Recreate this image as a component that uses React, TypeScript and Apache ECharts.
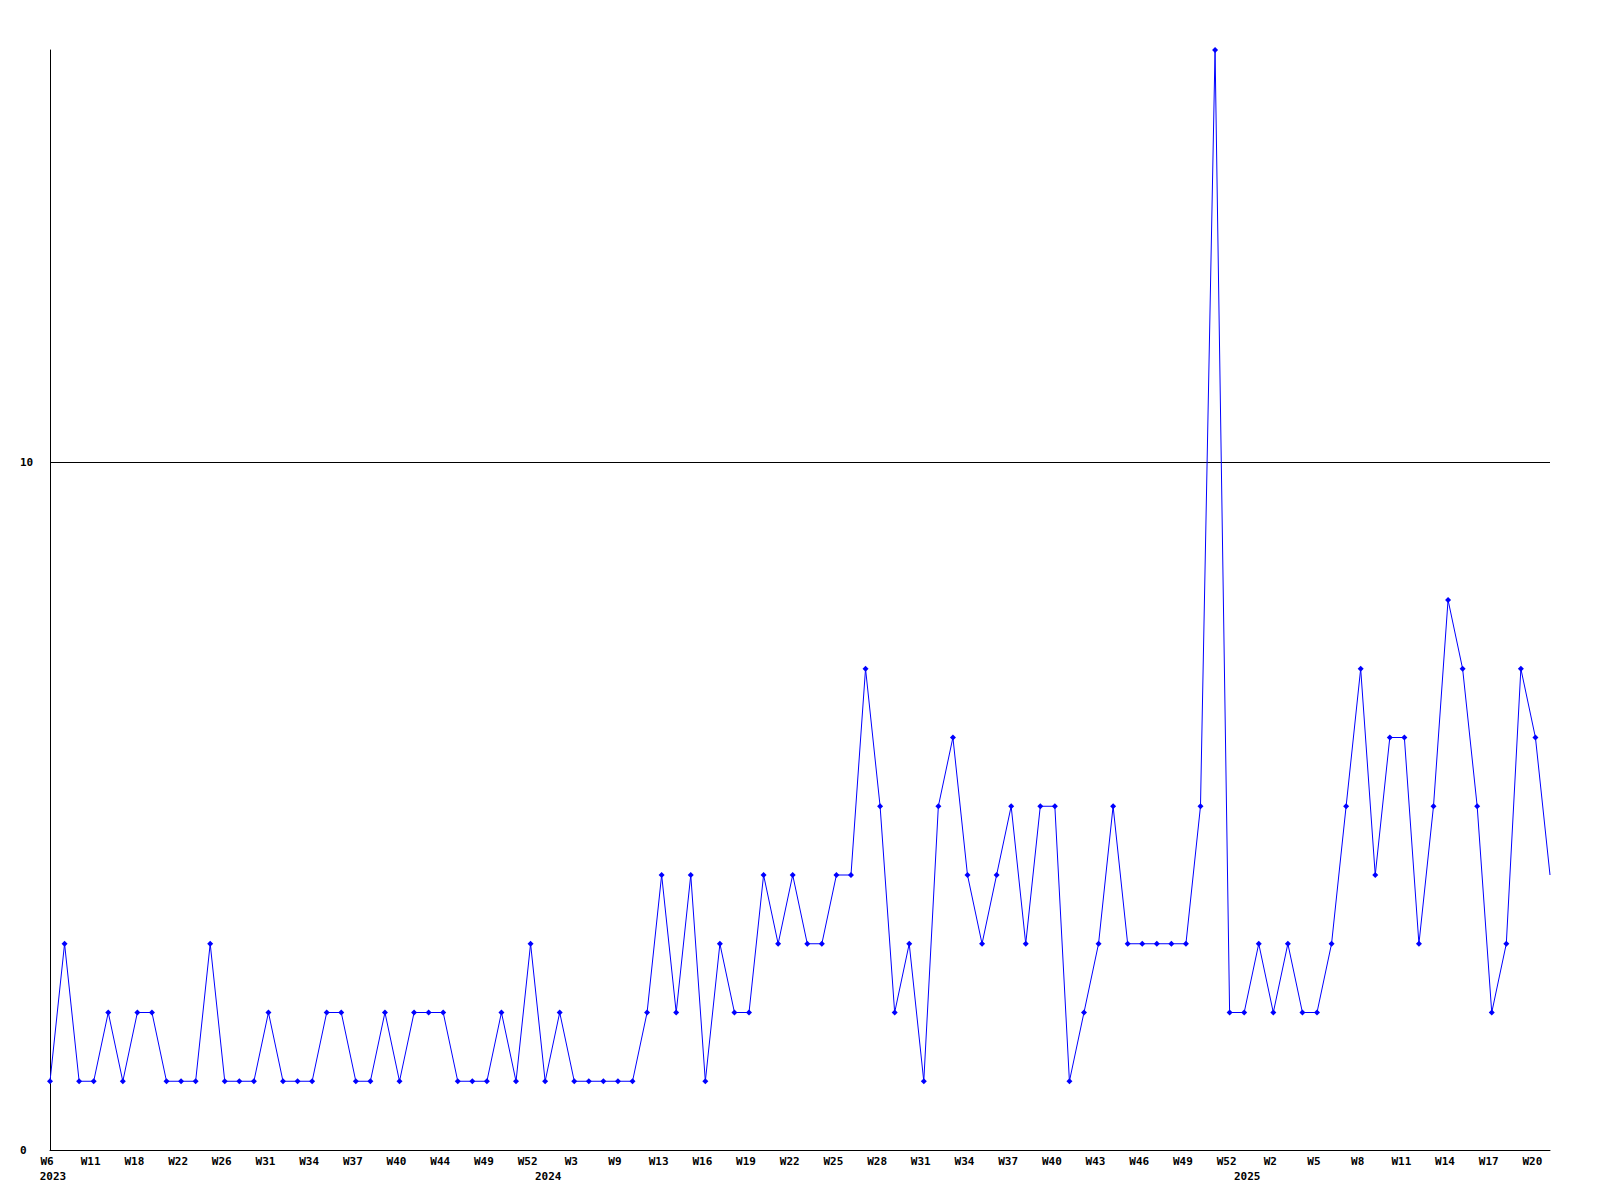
import React, { useEffect, useRef } from "react";
import * as echarts from "echarts";

const weeks2023 = ["W6", "W8", "W9", "W11", "W14", "W16", "W18", "W19", "W21", "W22", "W23", "W25", "W26", "W28", "W29", "W31", "W32", "W33", "W34", "W35", "W36", "W37", "W38", "W39", "W40", "W41", "W43", "W44", "W45", "W47", "W49", "W50", "W51", "W52"];
const weeks2024 = ["W1", "W2", "W3", "W5", "W7", "W9", "W10", "W12", "W13", "W14", "W15", "W16", "W17", "W18", "W19", "W20", "W21", "W22", "W23", "W24", "W25", "W26", "W27", "W28", "W29", "W30", "W31", "W32", "W33", "W34", "W35", "W36", "W37", "W38", "W39", "W40", "W41", "W42", "W43", "W44", "W45", "W46", "W47", "W48", "W49", "W50", "W51", "W52"];
const weeks2025 = ["W0", "W1", "W2", "W3", "W4", "W5", "W6", "W7", "W8", "W9", "W10", "W11", "W12", "W13", "W14", "W15", "W16", "W17", "W18", "W19", "W20", "W21"];
const years = ["2023", "2024", "2025"];

const values = [
  1, 3, 1, 1, 2, 1, 2, 2, 1, 1,
  1, 3, 1, 1, 1, 2, 1, 1, 1, 2,
  2, 1, 1, 2, 1, 2, 2, 2, 1, 1,
  1, 2, 1, 3, 1, 2, 1, 1, 1, 1,
  1, 2, 4, 2, 4, 1, 3, 2, 2, 4,
  3, 4, 3, 3, 4, 4, 7, 5, 2, 3,
  1, 5, 6, 4, 3, 4, 5, 3, 5, 5,
  1, 2, 3, 5, 3, 3, 3, 3, 3, 5,
  16, 2, 2, 3, 2, 3, 2, 2, 3, 5,
  7, 4, 6, 6, 3, 5, 8, 7, 5, 2,
  3, 7, 6, 4,
];

const yTickLabels = [0, 10];

export default function App() {
  const ref = useRef<HTMLDivElement>(null);

  useEffect(() => {
    if (!ref.current) return;
    const chart = echarts.init(ref.current, undefined, { renderer: "svg" });

    const yearWeeks = [weeks2023, weeks2024, weeks2025];
    const categories: string[] = [];
    const yearStart: Record<number, string> = {};
    yearWeeks.forEach((ws, yi) => {
      yearStart[categories.length] = years[yi];
      ws.forEach((w) => categories.push(years[yi] + " " + w));
    });

    const font = {
      fontFamily: "DejaVu Sans Mono",
      fontWeight: "bold" as const,
      fontSize: 11,
      color: "#000",
    };

    const seriesData = values.map((v, i) =>
      i === values.length - 1 ? { value: v, symbol: "none" } : v
    );

    chart.setOption({
      animation: false,
      backgroundColor: "#fff",
      grid: { left: 50, right: 50, top: 50, bottom: 50, containLabel: false },
      xAxis: [
        {
          type: "category",
          data: categories,
          boundaryGap: false,
          axisLine: { show: true, lineStyle: { color: "#000", width: 1 } },
          axisTick: { show: false },
          splitLine: { show: false },
          axisLabel: {
            ...font,
            margin: 6,
            padding: [0, 6, 0, 0],
            interval: (index: number) => index % 3 === 0,
            formatter: (v: string) => v.split(" ")[1],
          },
        },
        {
          type: "category",
          data: categories,
          boundaryGap: false,
          position: "bottom",
          axisLine: { show: false },
          axisTick: { show: false },
          splitLine: { show: false },
          axisLabel: {
            ...font,
            margin: 21,
            padding: [0, 0, 0, 6],
            interval: (index: number) => yearStart[index] !== undefined,
            formatter: (v: string) => v.split(" ")[0],
          },
        },
      ],
      yAxis: {
        type: "value",
        min: 0,
        max: 16,
        interval: 10,
        axisLine: { show: true, lineStyle: { color: "#000", width: 1 } },
        axisTick: { show: false },
        splitLine: {
          show: true,
          showMinLine: false,
          showMaxLine: false,
          lineStyle: { color: "#000", width: 1 },
        },
        axisLabel: {
          ...font,
          align: "left",
          margin: 30,
          showMaxLabel: false,
          formatter: (v: number) => (yTickLabels.includes(v) ? String(v) : ""),
        },
      },
      series: [
        {
          type: "line",
          xAxisIndex: 0,
          data: seriesData,
          symbol: "diamond",
          symbolSize: 6,
          showAllSymbol: true,
          lineStyle: { color: "#0000ff", width: 1 },
          itemStyle: { color: "#0000ff" },
          emphasis: { disabled: true },
        },
      ],
    });

    return () => chart.dispose();
  }, []);

  return (
    <div
      ref={ref}
      style={{ position: "absolute", left: 0, top: 0, width: 1600, height: 1200 }}
    />
  );
}
